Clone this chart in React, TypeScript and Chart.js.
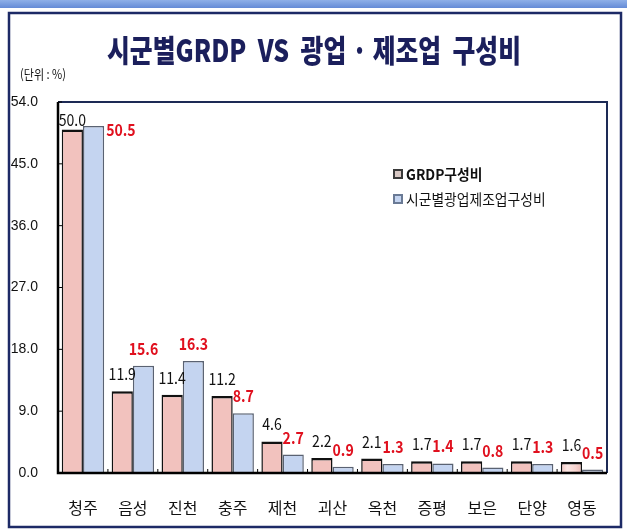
import React, { useEffect, useRef } from "react";
import { Chart, registerables } from "chart.js";

Chart.register(...registerables);

const categories = ["청주", "음성", "진천", "충주", "제천", "괴산", "옥천", "증평", "보은", "단양", "영동"];
const grdpShare = [50.0, 11.9, 11.4, 11.2, 4.6, 2.2, 2.1, 1.7, 1.7, 1.7, 1.6];
const mfgShare = [50.5, 15.6, 16.3, 8.7, 2.7, 0.9, 1.3, 1.4, 0.8, 1.3, 0.5];
const seriesNames = ["GRDP구성비", "시군별광업제조업구성비"];
const yTicks = [0, 9, 18, 27, 36, 45, 54];
const titleText = "시군별GRDP  VS  광업 · 제조업  구성비";
const unitText = "(단위 : %)";

const KR = "'Noto Sans CJK KR', 'Noto Sans', sans-serif";
const NARROW = "'Liberation Sans Narrow', 'Liberation Sans', Arial, sans-serif";

const framePlugin = {
  id: "frame",
  beforeDraw(chart: any) {
    const { ctx, width, height } = chart;
    ctx.save();
    ctx.fillStyle = "#ffffff";
    ctx.fillRect(0, 0, width, height);
    const g = ctx.createLinearGradient(0, 0, 0, 9);
    g.addColorStop(0, "#8fb0e8");
    g.addColorStop(1, "#5f86d4");
    ctx.fillStyle = g;
    ctx.fillRect(0, 0, width, 8);
    ctx.strokeStyle = "#1d2a66";
    ctx.lineWidth = 2.5;
    ctx.strokeRect(9, 13, 612, 514);
    ctx.restore();
  },
  beforeDatasetsDraw(chart: any) {
    const { ctx } = chart;
    const pal = [
      ["#f2c2be", "#fde8e5", "#f8d4d0", "#ecbab5"],
      ["#c4d4f0", "#e2ebfa", "#d2dff5", "#bccde9"],
    ];
    chart.data.datasets.forEach((_ds: any, di: number) => {
      const meta = chart.getDatasetMeta(di);
      meta.data.forEach((bar: any) => {
        const l = bar.x - bar.width / 2;
        const r = bar.x + bar.width / 2;
        const g = ctx.createLinearGradient(l, 0, r, 0);
        g.addColorStop(0, pal[di][0]);
        g.addColorStop(0.3, pal[di][1]);
        g.addColorStop(0.7, pal[di][2]);
        g.addColorStop(1, pal[di][3]);
        bar.options.backgroundColor = g;
      });
    });
  },
  afterDraw(chart: any) {
    const { ctx, chartArea } = chart;
    const { left, right, top, bottom } = chartArea;
    ctx.save();
    ctx.strokeStyle = "#1d2a55";
    ctx.lineWidth = 2;
    ctx.beginPath();
    ctx.moveTo(left, top);
    ctx.lineTo(right, top);
    ctx.lineTo(right, bottom);
    ctx.stroke();
    ctx.strokeStyle = "#000";
    ctx.lineWidth = 2.5;
    ctx.beginPath();
    ctx.moveTo(left, top);
    ctx.lineTo(left, bottom);
    ctx.lineTo(right, bottom);
    ctx.stroke();
    ctx.lineWidth = 1;
    const ys = chart.scales.y;
    yTicks.forEach((v) => {
      const py = ys.getPixelForValue(v);
      ctx.beginPath();
      ctx.moveTo(left, py);
      ctx.lineTo(left + 4, py);
      ctx.stroke();
    });
    const step = (right - left) / categories.length;
    for (let i = 1; i < categories.length; i++) {
      const px = left + step * i;
      ctx.beginPath();
      ctx.moveTo(px, bottom);
      ctx.lineTo(px, bottom - 4);
      ctx.stroke();
    }
    // title (condensed)
    ctx.save();
    ctx.translate(314, 50);
    ctx.scale(0.8, 1);
    ctx.fillStyle = "#1b1f5c";
    ctx.font = `900 31px ${KR}`;
    ctx.textAlign = "center";
    ctx.textBaseline = "middle";
    ctx.fillText(titleText, 0, 0);
    ctx.restore();
    ctx.save();
    ctx.translate(20, 74);
    ctx.scale(0.85, 1);
    ctx.fillStyle = "#111";
    ctx.font = `13px ${KR}`;
    ctx.textAlign = "left";
    ctx.textBaseline = "middle";
    ctx.fillText(unitText, 0, 0);
    ctx.restore();
    // legend
    const lx = 393;
    const colors = [
      ["#3a3a3a", "#d8c8c4"],
      ["#6a7a95", "#c4d4f0"],
    ];
    ctx.textBaseline = "middle";
    seriesNames.forEach((name, i) => {
      const ly = 174 + i * 25;
      ctx.fillStyle = colors[i][0];
      ctx.fillRect(lx, ly - 5, 10, 10);
      ctx.fillStyle = colors[i][1];
      ctx.fillRect(lx + 2, ly - 3, 6, 6);
      ctx.save();
      ctx.translate(lx + 13, ly);
      ctx.scale(0.92, 1);
      ctx.fillStyle = "#111";
      ctx.font = `${i === 0 ? "bold " : ""}15px ${KR}`;
      ctx.textAlign = "left";
      ctx.fillText(name, 0, 0);
      ctx.restore();
    });
    // data labels
    chart.data.datasets.forEach((ds: any, di: number) => {
      const meta = chart.getDatasetMeta(di);
      meta.data.forEach((bar: any, i: number) => {
        const v = ds.data[i];
        const txt = v.toFixed(1);
        let x = bar.x;
        let y = bar.y - 17;
        let align = "center";
        if (bar.y - 17 < top + 25) {
          if (di === 1) {
            align = "left";
            x = bar.x + bar.width / 2 + 2;
            y = bar.y + 4;
          } else {
            y = bar.y - 10;
          }
        }
        ctx.save();
        ctx.translate(x, y);
        ctx.scale(0.88, 1);
        ctx.textAlign = align;
        ctx.textBaseline = "middle";
        if (di === 0) {
          ctx.fillStyle = "#111";
          ctx.font = `16px ${KR}`;
        } else {
          ctx.fillStyle = "#e0101e";
          ctx.font = `bold 16px ${KR}`;
        }
        ctx.fillText(txt, 0, 0);
        ctx.restore();
      });
    });
    ctx.restore();
  },
};

export default function App() {
  const ref = useRef<HTMLCanvasElement | null>(null);
  useEffect(() => {
    if (!ref.current) return;
    const chart = new Chart(ref.current, {
      type: "bar",
      data: {
        labels: categories,
        datasets: [
          {
            label: seriesNames[0],
            data: grdpShare,
            backgroundColor: "#f8d4d0",
            borderColor: "#111",
            borderWidth: { top: 2.5, left: 1.5, right: 1.5, bottom: 0 },
          },
          {
            label: seriesNames[1],
            data: mfgShare,
            backgroundColor: "#d2dff5",
            borderColor: "#5a6272",
            borderWidth: { top: 1.5, left: 1.5, right: 1.5, bottom: 0 },
          },
        ],
      },
      options: {
        responsive: false,
        animation: false,
        devicePixelRatio: 1,
        layout: { padding: { left: 0, top: 102, right: 20, bottom: 0 } },
        plugins: { legend: { display: false }, title: { display: false }, tooltip: { enabled: false } },
        datasets: { bar: { categoryPercentage: 0.85, barPercentage: 1.0 } },
        scales: {
          x: {
            grid: { display: false },
            border: { display: false },
            ticks: { color: "#111", font: { family: KR, size: 16 }, padding: 17 },
            afterFit(scale: any) {
              scale.height = 58;
            },
          },
          y: {
            min: 0,
            max: 54,
            afterBuildTicks(scale: any) {
              scale.ticks = yTicks.map((v) => ({ value: v }));
            },
            grid: { display: false },
            border: { display: false },
            ticks: {
              color: "#111",
              font: { family: NARROW, size: 14 },
              padding: 12,
              callback: (v: any) => Number(v).toFixed(1),
            },
            afterFit(scale: any) {
              scale.width = 58;
            },
          },
        },
      },
      plugins: [framePlugin],
    } as any);
    return () => chart.destroy();
  }, []);
  return (
    <div style={{ position: "fixed", left: 0, top: 0, width: 627, height: 531 }}>
      <canvas ref={ref} width={627} height={531} style={{ display: "block", width: 627, height: 531 }} />
    </div>
  );
}
